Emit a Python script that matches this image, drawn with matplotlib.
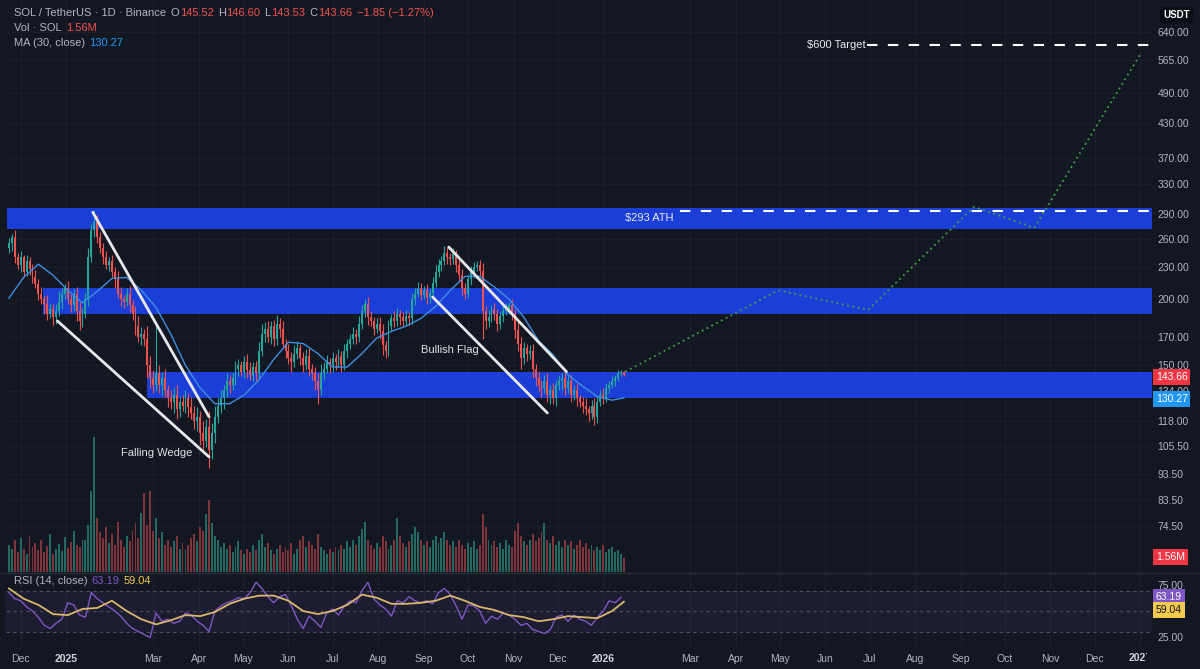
import numpy as np
import matplotlib.pyplot as plt
import matplotlib.dates as mdates
from matplotlib.transforms import Bbox, TransformedBbox

plt.rcParams['font.family'] = ['Liberation Sans', 'DejaVu Sans']

# ---- data (2-day candles from 2024-11-23) ----
start_day = '2024-11-23'
first_open = 250
closes = [
    255, 262, 240, 232, 240, 225, 236, 228, 220, 214,
    205, 200, 196, 188, 192, 185, 190, 198, 205, 210,
    200, 195, 205, 190, 182, 188, 200, 240, 270, 280,
    262, 250, 240, 232, 236, 225, 218, 205, 200, 198,
    205, 195, 188, 178, 170, 172, 168, 150, 142, 138,
    145, 138, 142, 135, 130, 128, 132, 124, 128, 126,
    130, 125, 122, 118, 120, 112, 108, 115, 104, 112,
    120, 126, 130, 135, 140, 138, 142, 148, 150, 146,
    152, 147, 144, 149, 145, 160, 172, 176, 170, 178,
    168, 180, 176, 165, 160, 155, 152, 158, 162, 155,
    150, 156, 148, 145, 140, 135, 145, 148, 152, 150,
    155, 152, 156, 150, 160, 165, 168, 172, 170, 180,
    190, 196, 185, 182, 176, 180, 174, 164, 160, 178,
    184, 182, 188, 185, 182, 186, 184, 200, 205, 210,
    204, 208, 202, 206, 215, 225, 232, 236, 245, 240,
    238, 244, 232, 222, 210, 205, 218, 225, 230, 232,
    226, 190, 182, 185, 192, 188, 180, 186, 190, 192,
    195, 188, 175, 165, 155, 162, 158, 160, 148, 142,
    138, 136, 140, 132, 135, 130, 138, 140, 142, 136,
    140, 132, 135, 130, 128, 126, 124, 122, 126, 120,
    128, 132, 130, 136, 138, 140, 142, 145, 146, 143.66,
]
upper_wick = [
    6, 4, 8, 5, 7, 3, 6, 4, 5, 7,
    4, 6, 3, 8, 5, 4, 6, 9, 5, 4,
    7, 5, 4, 6, 8, 5, 6, 10, 8, 15,
    8, 6, 5, 7, 4, 6, 5, 8, 6, 4,
    5, 7, 4, 6, 8, 5, 4, 10, 6, 5,
    33, 5, 4, 6, 3, 5, 4, 6, 3, 4,
    5, 3, 6, 4, 5, 3, 6, 4, 8, 5,
    6, 4, 5, 3, 5, 4, 3, 5, 4, 3,
    4, 6, 5, 3, 4, 6, 8, 5, 6, 4,
    5, 7, 4, 6, 3, 5, 4, 6, 5, 3,
    4, 5, 6, 3, 4, 5, 6, 4, 5, 3,
    4, 3, 5, 4, 5, 3, 4, 5, 4, 6,
    5, 4, 6, 5, 3, 4, 5, 6, 3, 5,
    4, 6, 5, 3, 4, 5, 3, 6, 5, 6,
    5, 4, 6, 3, 5, 7, 6, 5, 7, 6,
    5, 6, 4, 7, 6, 5, 4, 6, 5, 4,
    5, 8, 4, 6, 3, 5, 4, 3, 4, 5,
    3, 5, 4, 6, 5, 4, 3, 4, 5, 3,
    4, 3, 4, 5, 3, 4, 3, 4, 3, 5,
    3, 4, 3, 4, 2, 3, 4, 2, 3, 4,
    4, 3, 4, 3, 2, 3, 2, 2, 1, 0.6,
]
lower_wick = [
    5, 8, 6, 4, 7, 5, 4, 6, 5, 4,
    6, 4, 8, 5, 4, 6, 5, 4, 6, 5,
    4, 6, 5, 8, 7, 5, 4, 6, 5, 8,
    6, 5, 7, 4, 6, 5, 8, 4, 6, 5,
    4, 6, 5, 7, 4, 6, 5, 8, 6, 5,
    4, 5, 6, 4, 5, 4, 6, 5, 4, 3,
    4, 5, 3, 4, 5, 6, 4, 3, 8, 4,
    5, 3, 4, 6, 4, 5, 3, 4, 5, 3,
    4, 5, 3, 4, 5, 3, 4, 6, 4, 5,
    5, 4, 6, 3, 5, 4, 6, 3, 4, 5,
    4, 3, 5, 4, 5, 8, 3, 4, 3, 5,
    4, 5, 3, 4, 3, 5, 4, 3, 5, 4,
    4, 5, 6, 4, 5, 3, 6, 7, 5, 4,
    3, 5, 4, 6, 4, 3, 5, 4, 5, 3,
    5, 4, 6, 5, 3, 4, 5, 6, 4, 7,
    6, 5, 7, 5, 6, 5, 4, 5, 6, 4,
    5, 22, 6, 5, 4, 5, 6, 4, 5, 3,
    4, 5, 6, 5, 7, 4, 5, 4, 6, 5,
    4, 5, 3, 4, 5, 3, 4, 3, 5, 4,
    3, 4, 3, 4, 3, 4, 3, 4, 3, 4,
    3, 2, 3, 2, 3, 2, 3, 2, 2, 0.13,
]
volume_m = [
    3.0, 2.6, 3.5, 2.2, 3.8, 2.5, 2.0, 4.0, 2.8, 3.2,
    2.4, 3.6, 2.2, 2.9, 4.2, 2.0, 2.6, 3.1, 2.3, 3.9,
    2.7, 3.3, 4.5, 3.0, 2.8, 3.6, 3.6, 5.2, 9.0, 15.0,
    6.0, 4.4, 3.8, 5.0, 3.2, 4.2, 3.0, 5.5, 3.6, 2.8,
    4.0, 3.4, 4.6, 5.4, 3.8, 6.5, 8.8, 5.2, 9.0, 4.6,
    6.0, 3.8, 4.4, 3.0, 3.6, 2.8, 3.4, 4.0, 2.6, 3.2,
    2.4, 3.0, 3.8, 4.2, 3.4, 5.0, 4.6, 6.4, 8.0, 5.4,
    4.0, 3.6, 2.8, 3.2, 2.6, 3.0, 2.2, 2.8, 3.4, 2.4,
    2.0, 2.6, 2.2, 3.0, 2.4, 3.6, 4.2, 2.8, 3.2, 2.4,
    2.0, 2.6, 3.0, 2.2, 2.8, 2.4, 3.2, 2.0, 2.6, 3.6,
    4.0, 2.8, 3.4, 3.0, 2.6, 4.2, 2.8, 2.4, 2.0, 2.6,
    2.2, 2.8, 2.4, 3.0, 2.6, 3.4, 2.8, 3.6, 3.0, 4.0,
    4.8, 5.6, 3.6, 3.0, 2.6, 3.2, 2.8, 4.0, 3.4, 2.6,
    3.0, 3.6, 6.0, 4.0, 3.2, 2.8, 3.4, 4.2, 5.0, 4.4,
    3.6, 3.0, 3.4, 2.8, 3.6, 4.0, 3.2, 3.8, 4.4, 3.6,
    3.0, 3.4, 2.8, 3.6, 3.0, 2.6, 3.2, 2.8, 3.4, 2.6,
    3.0, 6.4, 5.0, 3.6, 3.0, 3.4, 2.8, 3.2, 2.6, 3.6,
    3.0, 2.8, 4.6, 5.4, 4.0, 3.4, 3.0, 3.6, 4.2, 3.4,
    3.8, 4.4, 5.4, 3.6, 3.2, 4.0, 3.0, 3.4, 2.8, 3.6,
    3.0, 3.4, 2.6, 3.0, 3.6, 2.8, 3.2, 2.6, 3.0, 2.4,
    2.8, 2.4, 3.0, 2.2, 2.6, 2.8, 2.2, 2.4, 2.0, 1.56,
]
# MA(30) and RSI-MA sampled every 5th candle
ma_idx = list(range(0, 210, 5)) + [209]
ma30 = [201, 220, 233, 222, 208, 197, 207, 219, 220, 208,
        193, 172, 150, 136, 127, 127, 132, 141, 154, 166,
        165, 158, 149, 149, 158, 169, 174, 178, 184, 194,
        208, 221, 221, 211, 200, 185, 167, 157, 144, 137,
        131, 129, 130.27]
rsi_ma = [72, 62, 56, 47, 46, 52, 53, 60, 50, 42,
          37, 41, 46, 45, 49, 57, 62, 65, 65, 60,
          50, 47, 50, 56, 66, 63, 57, 57, 58, 60,
          65, 60, 54, 51, 46, 44, 40, 42, 45, 44,
          43, 50, 59.04]
# RSI(14) every second candle
rsi14 = [68, 62, 60, 54, 50, 44, 36, 33, 38, 42,
         58, 56, 46, 44, 68, 62, 58, 54, 50, 45,
         38, 33, 30, 27, 24, 48, 40, 42, 38, 40,
         48, 46, 40, 36, 30, 50, 55, 58, 60, 63,
         62, 68, 78, 72, 64, 58, 64, 66, 55, 42,
         33, 45, 40, 34, 48, 52, 46, 55, 60, 58,
         70, 78, 62, 56, 52, 45, 60, 58, 64, 60,
         58, 60, 57, 68, 72, 66, 55, 42, 56, 55,
         50, 38, 45, 42, 48, 46, 42, 36, 38, 32,
         30, 28, 32, 44, 46, 40, 46, 42, 40, 36,
         44, 50, 60, 58, 63.19]

# zones, patterns and projection
band_start = ['2024-11-22', '2024-12-16', '2025-02-25']
band_low = [272, 188, 130]
band_high = [298, 210, 146]
wedge_top_dates, wedge_top_prices = ['2025-01-19', '2025-04-08'], [292, 120]
wedge_bot_dates, wedge_bot_prices = ['2024-12-26', '2025-04-08'], [182, 100.8]
flag_top_dates, flag_top_prices = ['2025-09-18', '2025-12-07'], [251, 146]
flag_bot_dates, flag_bot_prices = ['2025-09-07', '2025-11-24'], [202, 122]
proj_dates = ['2026-01-16', '2026-04-30', '2026-06-30', '2026-09-10', '2026-10-21', '2027-01-01']
proj_prices = [146, 208, 191, 299, 273, 580]
ath_price, ath_from = 293, '2026-02-22'
target_price, target_from = 604, '2026-06-29'

price_ticks = [640, 565, 490, 430, 370, 330, 290, 260, 230, 200, 170, 150,
               134, 118, 105.5, 93.5, 83.5, 74.5]
tick_dates = ['2024-12-01', '2025-01-01', '2025-03-01', '2025-04-01', '2025-05-01',
              '2025-06-01', '2025-07-01', '2025-08-01', '2025-09-01', '2025-10-01',
              '2025-11-01', '2025-12-01', '2026-01-01', '2026-03-01', '2026-04-01',
              '2026-05-01', '2026-06-01', '2026-07-01', '2026-08-01', '2026-09-01',
              '2026-10-01', '2026-11-01', '2026-12-01', '2027-01-01']
tick_labels = ['Dec', '2025', 'Mar', 'Apr', 'May', 'Jun', 'Jul', 'Aug', 'Sep', 'Oct',
               'Nov', 'Dec', '2026', 'Mar', 'Apr', 'May', 'Jun', 'Jul', 'Aug', 'Sep',
               'Oct', 'Nov', 'Dec', '2027']

# ---- build ----
def dnum(d):
    return mdates.date2num(np.datetime64(d))

n = len(closes)
x = dnum(start_day) + 2 * np.arange(n)
c = np.array(closes, float)
o = np.r_[first_open, c[:-1]]
hi = np.maximum(o, c) + np.array(upper_wick)
lo = np.minimum(o, c) - np.array(lower_wick)
up = c >= o

BG = '#131722'
TXT = '#b2b5be'
RED, GREEN = '#ef5350', '#26a69a'
W, H = 1200, 669

def fpx(px, py):
    return px / W, 1 - py / H

fig = plt.figure(figsize=(12, 6.69), dpi=100, facecolor=BG)
ax = fig.add_axes([6 / W, 1 - 572 / H, 1146 / W, 572 / H], facecolor=BG)
axr = fig.add_axes([6 / W, 1 - 647 / H, 1146 / W, 73 / H], facecolor=BG, sharex=ax)

ax.set_yscale('log')
ax.set_ylim(61.1, 735)
ax.set_xlim(dnum('2024-11-21'), dnum('2027-01-09'))

# grid
tx = [dnum(d) for d in tick_dates]
for a in (ax, axr):
    for t in tx:
        a.axvline(t, color='#1c202b', lw=0.8, zorder=0)
for p in price_ticks:
    ax.axhline(p, color='#1a1e29', lw=0.8, zorder=0)

# zones
x_end = dnum('2027-01-09')
for s, l, h in zip(band_start, band_low, band_high):
    ax.fill_between([dnum(s), x_end], l, h, color='#1b3fd6', lw=0, zorder=1)

# candles
cols = np.where(up, GREEN, RED)
ax.vlines(x, lo, hi, colors=cols, lw=0.8, zorder=3)
ax.bar(x, np.maximum(np.abs(c - o), 0.4), bottom=np.minimum(o, c), width=1.3,
       color=cols, lw=0, zorder=3)

# MA 30
ax.plot(x[ma_idx], ma30, color='#3d8fe0', lw=1.0, zorder=4)

# patterns
for ds, ps in [(wedge_top_dates, wedge_top_prices), (wedge_bot_dates, wedge_bot_prices),
               (flag_top_dates, flag_top_prices), (flag_bot_dates, flag_bot_prices)]:
    ax.plot([dnum(d) for d in ds], ps, color='#e8e8e8', lw=2, zorder=5,
            solid_capstyle='round')

# projection
ax.plot([dnum(d) for d in proj_dates], proj_prices, color='#43a047', lw=1.3,
        ls=(0, (1, 2)), zorder=5)
ax.plot([dnum(ath_from), x_end], [ath_price] * 2, color='white', lw=1.5,
        ls=(0, (5, 5)), zorder=5)
ax.plot([dnum(target_from), x_end], [target_price] * 2, color='white', lw=1.5,
        ls=(0, (5, 5)), zorder=5)

# volume overlay
axv = ax.twinx()
axv.set_ylim(0, 63.5)
vcols = np.where(up, '#236b62', '#7f343b')
axv.bar(x, volume_m, width=1.3, color=vcols, lw=0)
axv.axis('off')

ax.yaxis.tick_right()
ax.set_yticks(price_ticks)
ax.set_yticklabels([f'{p:.2f}' for p in price_ticks])
ax.yaxis.set_minor_locator(plt.NullLocator())
ax.tick_params(axis='y', length=0, pad=4, labelsize=7.5, labelcolor=TXT)
ax.tick_params(axis='x', length=0, labelbottom=False)

# RSI pane
axr.set_ylim(14.9, 86.1)
axr.fill_between([x[0] - 2, x_end], 30, 70, color='#7e57c2', alpha=0.1, lw=0)
for lv in (70, 50, 30):
    axr.axhline(lv, color='#4a4e5a', lw=0.8, ls=(0, (3, 3)))
axr.plot(x[::2][:len(rsi14)], rsi14, color='#7e57c2', lw=1.0)
axr.plot(x[ma_idx], rsi_ma, color='#d8b86a', lw=1.3)
axr.yaxis.tick_right()
axr.set_yticks([75, 25])
axr.set_yticklabels(['75.00', '25.00'])
axr.tick_params(axis='y', length=0, pad=4, labelsize=7.5, labelcolor=TXT)
axr.set_xticks(tx)
axr.set_xticklabels(tick_labels[:-1] + [''])
axr.tick_params(axis='x', length=0, pad=5, labelsize=7.5, labelcolor=TXT)
for lbl in axr.get_xticklabels():
    if lbl.get_text().isdigit():
        lbl.set_fontweight('bold')
        lbl.set_color('#d1d4dc')
# last year label is cut by the price scale column
clip = TransformedBbox(Bbox([[0, 0], [1147 / W, 1]]), fig.transFigure)
last = fig.text(tx[-1], -0.15, tick_labels[-1], transform=axr.get_xaxis_transform(),
                color='#d1d4dc', fontsize=7.5, fontweight='bold', ha='center', va='center')
last.set_clip_box(clip)
last.set_clip_on(True)

for a in (ax, axr, axv):
    for sp in a.spines.values():
        sp.set_visible(False)

fig.add_artist(plt.Line2D([0, 1], [1 - 573 / H] * 2, color='#2a2e39', lw=1))

# header texts, each piece placed after the previous one
def chain(host, px, py, parts, size=8):
    t = fig.text(*fpx(px, py), parts[0][0], color=parts[0][1], fontsize=size, va='center')
    for s, col, gap in parts[1:]:
        t = host.annotate(s, xy=(1, 0.5), xycoords=t, xytext=(gap, 0),
                          textcoords='offset points', color=col, fontsize=size,
                          va='center', ha='left', annotation_clip=False, zorder=10)

chain(axv, 14, 13, [('SOL / TetherUS · 1D · Binance', TXT), ('O', TXT, 3), ('145.52', RED, 0.5),
                    ('H', TXT, 3), ('146.60', RED, 0.5), ('L', TXT, 3), ('143.53', RED, 0.5),
                    ('C', TXT, 3), ('143.66', RED, 0.5), ('\u22121.85 (\u22121.27%)', RED, 3)])
chain(axv, 14, 28, [('Vol · SOL', TXT), ('1.56M', RED, 3)])
chain(axv, 14, 43, [('MA (30, close)', TXT), ('130.27', '#2196f3', 3)])
chain(axr, 14, 581, [('RSI (14, close)', TXT), ('63.19', '#7e57c2', 3), ('59.04', '#f2c94c', 3)])

# pattern labels
fig.text(*fpx(157, 453), 'Falling Wedge', color='#e0e0e0', fontsize=8, ha='center', va='center')
fig.text(*fpx(450, 350), 'Bullish Flag', color='#e0e0e0', fontsize=8, ha='center', va='center')
fig.text(*fpx(625, 218), '$293 ATH', color='#e8e8e8', fontsize=8, ha='left', va='center')
fig.text(*fpx(866, 45), '$600 Target', color='#e8e8e8', fontsize=8, ha='right', va='center')

# right scale tags
def tag(py, s, fc, tc='white'):
    fig.text(*fpx(1156, py), s, color=tc, fontsize=7.5, ha='left', va='center',
             bbox=dict(boxstyle='square,pad=0.25', fc=fc, ec='none'))

tag(377, '143.66', '#f23645')
tag(399, '130.27', '#2196f3')
tag(557, '1.56M', '#f23645')
tag(597, '63.19', '#7e57c2')
tag(610, '59.04', '#f2c94c', tc='#131722')
fig.text(*fpx(1177, 15), 'USDT', color='white', fontsize=7, fontweight='bold',
         ha='center', va='center',
         bbox=dict(boxstyle='round,pad=0.35', fc='#0c0e15', ec='none'))

fig.savefig('out.png', dpi=100, facecolor=BG)
